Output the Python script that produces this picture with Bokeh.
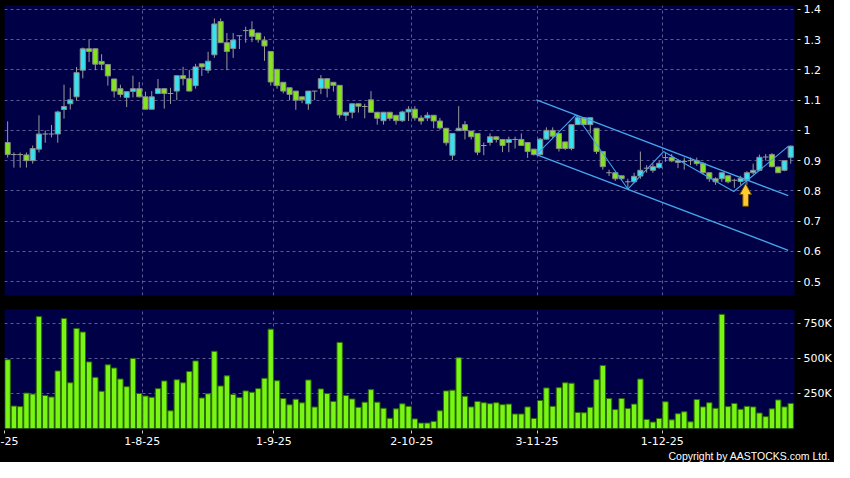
import numpy as np
from bokeh.plotting import figure
from bokeh.layouts import column
from bokeh.models import Range1d, FixedTicker, Title
from bokeh.embed import file_html
from bokeh.resources import INLINE

# ---------------- data ----------------
opens = [0.96, 0.92, 0.92, 0.919, 0.90, 0.938, 0.988, 0.988, 0.988, 1.069,
         1.088, 1.111, 1.199, 1.27, 1.27, 1.228, 1.218, 1.17, 1.138, 1.109,
         1.129, 1.138, 1.111, 1.07, 1.122, 1.138, 1.122, 1.13, 1.181, 1.171,
         1.148, 1.22, 1.199, 1.25, 1.36, 1.29, 1.271, 1.313, 1.33, 1.333,
         1.322, 1.298, 1.261, 1.202, 1.159, 1.141, 1.13, 1.111, 1.088, 1.13,
         1.139, 1.171, 1.159, 1.149, 1.05, 1.06, 1.088, 1.079, 1.101, 1.06,
         1.032, 1.06, 1.05, 1.032, 1.061, 1.07, 1.041, 1.041, 1.05, 1.031,
         1.007, 0.918, 0.999, 1.019, 0.998, 0.99, 0.95, 0.96, 0.979, 0.97,
         0.96, 0.97, 0.97, 0.96, 0.938, 0.92, 0.971, 1.0, 0.99, 0.962,
         0.94, 1.019, 1.042, 1.019, 1.007, 0.93, 0.86, 0.86, 0.85, 0.83,
         0.83, 0.849, 0.875, 0.868, 0.877, 0.91, 0.91, 0.894, 0.897, 0.90,
         0.90, 0.891, 0.86, 0.84, 0.84, 0.85, 0.835, 0.831, 0.834, 0.86,
         0.868, 0.912, 0.92, 0.879, 0.868, 0.911]
highs = [1.03, 0.927, 0.927, 0.927, 0.95, 1.05, 1.0, 1.018, 1.065, 1.151,
         1.141, 1.21, 1.274, 1.30, 1.27, 1.252, 1.218, 1.17, 1.151, 1.128,
         1.181, 1.16, 1.128, 1.13, 1.17, 1.138, 1.141, 1.181, 1.21, 1.20,
         1.22, 1.22, 1.26, 1.37, 1.37, 1.322, 1.322, 1.313, 1.343, 1.361,
         1.322, 1.311, 1.261, 1.202, 1.159, 1.141, 1.13, 1.111, 1.13, 1.13,
         1.183, 1.171, 1.159, 1.149, 1.06, 1.088, 1.088, 1.088, 1.13, 1.06,
         1.06, 1.06, 1.05, 1.065, 1.08, 1.08, 1.05, 1.06, 1.05, 1.041,
         1.007, 0.99, 1.08, 1.031, 0.998, 0.99, 0.96, 0.99, 0.979, 0.97,
         0.979, 0.979, 0.99, 0.96, 0.938, 0.975, 1.01, 1.01, 0.99, 0.962,
         1.019, 1.05, 1.042, 1.042, 1.007, 0.93, 0.87, 0.86, 0.85, 0.84,
         0.86, 0.93, 0.885, 0.89, 0.90, 0.925, 0.922, 0.905, 0.91, 0.91,
         0.91, 0.895, 0.86, 0.845, 0.862, 0.85, 0.84, 0.85, 0.865, 0.89,
         0.92, 0.922, 0.925, 0.88, 0.90, 0.95]
lows = [0.91, 0.877, 0.877, 0.877, 0.89, 0.927, 0.959, 0.977, 0.959, 1.039,
        1.069, 1.098, 1.172, 1.226, 1.199, 1.199, 1.148, 1.109, 1.109, 1.077,
        1.109, 1.109, 1.07, 1.07, 1.12, 1.072, 1.087, 1.10, 1.149, 1.13,
        1.138, 1.18, 1.189, 1.24, 1.29, 1.199, 1.24, 1.269, 1.29, 1.292,
        1.29, 1.23, 1.148, 1.138, 1.122, 1.10, 1.068, 1.09, 1.068, 1.10,
        1.12, 1.109, 1.128, 1.04, 1.031, 1.04, 1.059, 1.04, 1.059, 1.019,
        1.019, 1.032, 1.019, 1.028, 1.031, 1.032, 1.019, 1.031, 1.007, 1.002,
        0.95, 0.902, 0.999, 0.97, 0.97, 0.918, 0.918, 0.95, 0.96, 0.928,
        0.928, 0.94, 0.95, 0.909, 0.917, 0.917, 0.97, 0.975, 0.93, 0.935,
        0.934, 1.019, 1.019, 0.99, 0.922, 0.87, 0.849, 0.833, 0.835, 0.81,
        0.825, 0.84, 0.86, 0.86, 0.873, 0.896, 0.895, 0.875, 0.87, 0.885,
        0.883, 0.855, 0.83, 0.82, 0.83, 0.825, 0.81, 0.82, 0.82, 0.855,
        0.865, 0.90, 0.878, 0.86, 0.865, 0.89]
closes = [0.92, 0.92, 0.92, 0.90, 0.94, 0.988, 0.988, 0.988, 1.061, 1.079,
          1.101, 1.191, 1.27, 1.261, 1.219, 1.219, 1.18, 1.13, 1.119, 1.128,
          1.138, 1.111, 1.07, 1.111, 1.138, 1.122, 1.122, 1.181, 1.171, 1.13,
          1.21, 1.21, 1.229, 1.352, 1.29, 1.261, 1.299, 1.313, 1.33, 1.311,
          1.30, 1.279, 1.16, 1.148, 1.13, 1.119, 1.10, 1.101, 1.13, 1.13,
          1.171, 1.139, 1.149, 1.051, 1.06, 1.088, 1.08, 1.079, 1.06, 1.04,
          1.06, 1.04, 1.032, 1.061, 1.07, 1.041, 1.031, 1.05, 1.031, 1.008,
          0.959, 0.99, 1.007, 1.0, 0.979, 0.928, 0.95, 0.979, 0.97, 0.95,
          0.97, 0.97, 0.95, 0.93, 0.92, 0.971, 1.0, 0.981, 0.94, 0.94,
          1.019, 1.042, 1.019, 1.042, 0.93, 0.88, 0.86, 0.84, 0.84, 0.83,
          0.848, 0.868, 0.875, 0.88, 0.891, 0.91, 0.899, 0.90, 0.897, 0.90,
          0.89, 0.86, 0.84, 0.83, 0.86, 0.83, 0.835, 0.841, 0.86, 0.868,
          0.911, 0.912, 0.88, 0.86, 0.90, 0.948]
volumes_k = [494, 161, 157, 254, 247, 803, 237, 226, 413, 789,
             328, 718, 692, 478, 367, 267, 457, 434, 355, 300,
             503, 251, 233, 224, 286, 341, 127, 350, 328, 409,
             485, 219, 249, 554, 305, 378, 244, 222, 270, 260,
             286, 360, 713, 343, 215, 170, 210, 184, 348, 154,
             284, 251, 194, 618, 237, 212, 152, 189, 279, 189,
             145, 73, 141, 177, 159, 69, 39, 39, 51, 127,
             270, 275, 508, 231, 155, 194, 185, 178, 185, 171,
             175, 104, 104, 155, 72, 201, 291, 159, 293, 328,
             325, 115, 113, 152, 351, 452, 215, 136, 215, 143,
             175, 355, 65, 46, 72, 192, 62, 106, 120, 48,
             208, 155, 185, 145, 819, 157, 180, 138, 159, 155,
             111, 85, 141, 205, 155, 180]

x_tick_pos = [-0.5, 21.5, 42.5, 64.5, 84.5, 104.5]
x_tick_labels = ["-25", "1-8-25", "1-9-25", "2-10-25", "3-11-25", "1-12-25"]
price_ticks = [0.5, 0.6, 0.7, 0.8, 0.9, 1.0, 1.1, 1.2, 1.3, 1.4]
price_tick_labels = ["0.5", "0.6", "0.7", "0.8", "0.9", "1", "1.1", "1.2", "1.3", "1.4"]
vol_ticks = [250000, 500000, 750000]
vol_tick_labels = ["250K", "500K", "750K"]
copyright_text = "Copyright by AASTOCKS.com Ltd."

# drawn trend channel / zigzag (index, price)
channel_upper_x = [84.4, 124.6]
channel_upper_y = [1.1006, 0.7843]
channel_lower_x = [84.4, 124.6]
channel_lower_y = [0.920, 0.6035]
zigzag_x = [84.4, 90.7, 99.0, 104.7, 115.9, 124.6]
zigzag_y = [0.920, 1.051, 0.806, 0.930, 0.798, 0.947]
arrow_x = 117.8
arrow_tip = 0.824
arrow_base = 0.749

# ---------------- styling ----------------
BG = "#000000"
PANEL = "#000046"
GRID = "#5a5a94"
FONT = "DejaVu Sans"
UP = "#33e3f2"
DOWN = "#84e320"
EDGE = "#8a8a8a"
WICK = "#9a9a9a"
LINE = "#44a4ea"

o = np.array(opens); h = np.array(highs); l = np.array(lows); c = np.array(closes)
idx = np.arange(len(o))
up = c > o + 1e-9
dn = c < o - 1e-9
dj = ~(up | dn)

xr = Range1d(-0.5, 125.6)


def style(p):
    p.background_fill_color = PANEL
    p.border_fill_color = BG
    p.outline_line_color = None
    for g in (p.xgrid, p.ygrid):
        g.grid_line_color = GRID
        g.grid_line_dash = "3 3"
        g.grid_line_width = 1
    for ax in p.yaxis:
        ax.axis_line_color = None
        ax.major_tick_line_color = "#cccccc"
        ax.major_tick_in = -3
        ax.major_tick_out = 6
        ax.minor_tick_line_color = None
        ax.major_label_text_color = "white"
        ax.major_label_text_font = FONT
        ax.major_label_text_font_size = "11px"
        ax.major_label_standoff = 3


p1 = figure(frame_width=790, frame_height=290, x_range=xr, y_range=Range1d(0.454, 1.413),
            output_backend="svg", toolbar_location=None, x_axis_location=None,
            y_axis_location="right", min_border_left=4, min_border_right=40,
            min_border_top=5, min_border_bottom=7)
style(p1)
p1.yaxis.ticker = FixedTicker(ticks=price_ticks)
p1.yaxis.major_label_overrides = dict(zip(price_ticks, price_tick_labels))
p1.xgrid.ticker = FixedTicker(ticks=x_tick_pos)
p1.ygrid.ticker = FixedTicker(ticks=price_ticks)

p1.segment(idx, h, idx, l, line_color=WICK, line_width=1)
p1.vbar(x=idx[up], top=c[up], bottom=o[up], width=0.82, fill_color=UP, line_color=EDGE, line_width=1)
p1.vbar(x=idx[dn], top=o[dn], bottom=c[dn], width=0.82, fill_color=DOWN, line_color=EDGE, line_width=1)
p1.segment(idx[dj] - 0.45, o[dj], idx[dj] + 0.45, o[dj], line_color=WICK, line_width=1)

p1.line(channel_upper_x, channel_upper_y, line_color=LINE, line_width=1.4)
p1.line(channel_lower_x, channel_lower_y, line_color=LINE, line_width=1.4)
p1.line(zigzag_x, zigzag_y, line_color=LINE, line_width=1.1)

hw, sw, hh = 0.95, 0.45, 0.036
ax_ = [arrow_x, arrow_x + hw, arrow_x + sw, arrow_x + sw, arrow_x - sw, arrow_x - sw, arrow_x - hw]
ay_ = [arrow_tip, arrow_tip - hh, arrow_tip - hh, arrow_base, arrow_base, arrow_tip - hh, arrow_tip - hh]
p1.patch(ax_, ay_, fill_color="#ffc934", line_color="#6b4e00", line_width=1)

p2 = figure(frame_width=790, frame_height=119, x_range=xr, y_range=Range1d(0, 854000),
            output_backend="svg", toolbar_location=None, x_axis_location="below",
            y_axis_location="right", min_border_left=4, min_border_right=40,
            min_border_top=7, min_border_bottom=34)
style(p2)
p2.yaxis.ticker = FixedTicker(ticks=vol_ticks)
p2.yaxis.major_label_overrides = dict(zip(vol_ticks, vol_tick_labels))
p2.ygrid.ticker = FixedTicker(ticks=vol_ticks)
p2.xgrid.ticker = FixedTicker(ticks=x_tick_pos)
xa = p2.xaxis[0]
xa.ticker = FixedTicker(ticks=x_tick_pos)
xa.major_label_overrides = dict(zip(x_tick_pos, x_tick_labels))
xa.axis_line_color = None
xa.major_tick_line_color = "#cccccc"
xa.major_tick_in = -2
xa.major_tick_out = 5
xa.minor_tick_line_color = None
xa.major_label_text_color = "white"
xa.major_label_text_font = FONT
xa.major_label_text_font_size = "11px"
xa.major_label_standoff = 3

vol = np.array(volumes_k) * 1000.0
p2.vbar(x=np.arange(len(vol)), top=vol, bottom=0, width=0.86, fill_color="#78f514",
        line_color="#2d6b00", line_width=1)

p2.add_layout(Title(text=copyright_text, align="right", offset=-36, standoff=0,
                    text_color="white", text_font="Liberation Sans", text_font_size="10.5px",
                    text_font_style="normal"), "below")

layout = column(p1, p2, spacing=0, styles={"background-color": BG})
open("out.html", "w").write(file_html(layout, INLINE))
